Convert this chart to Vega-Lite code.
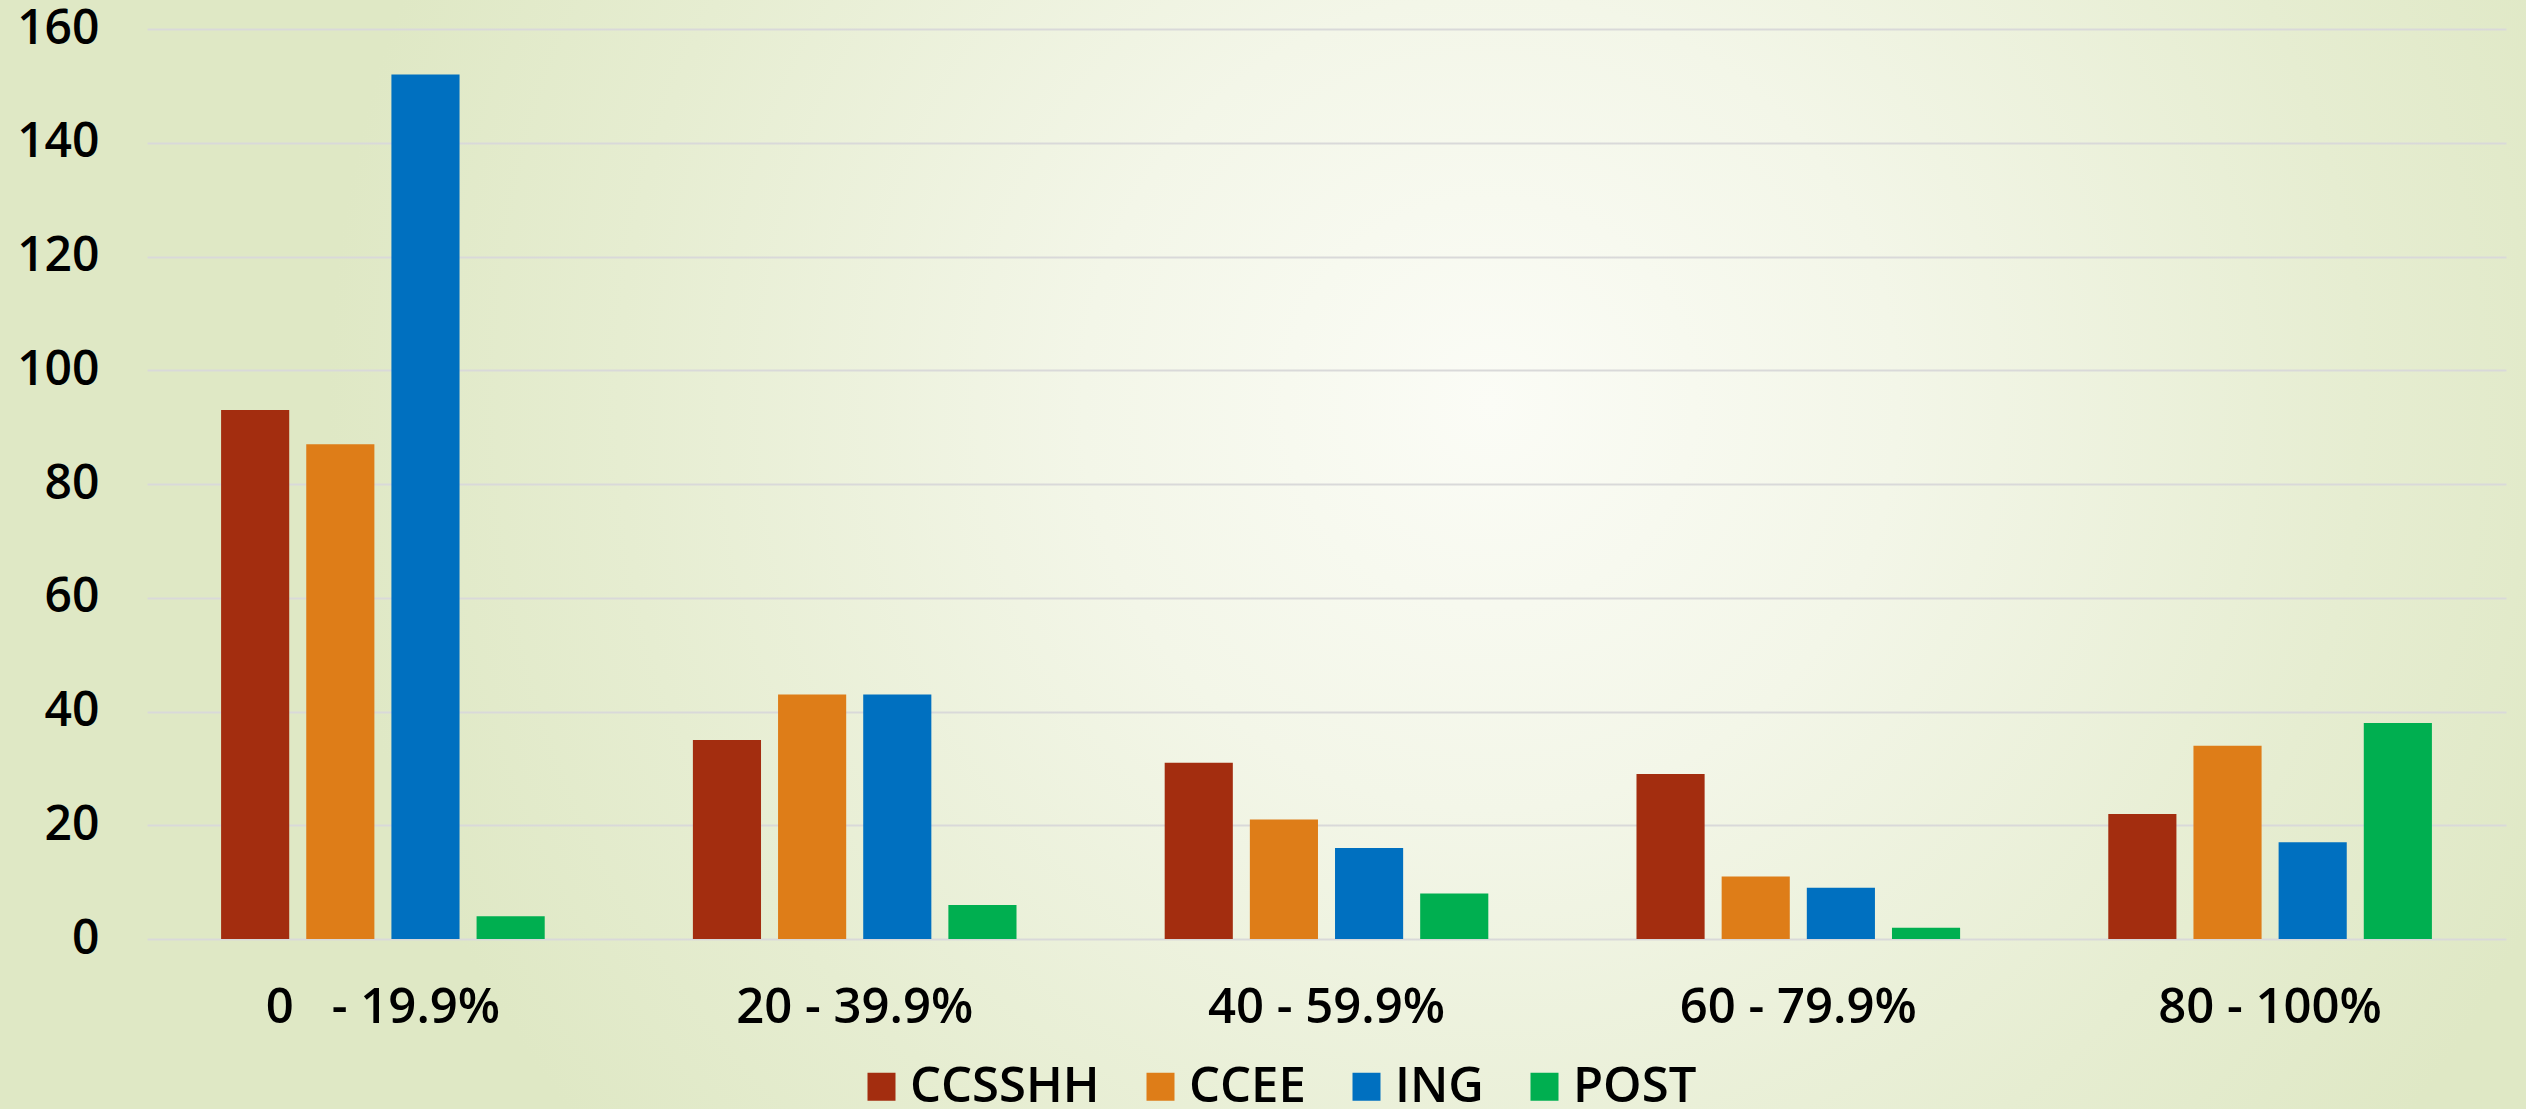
{
  "$schema": "https://vega.github.io/schema/vega-lite/v6.json",
  "width": 2526,
  "height": 1109,
  "autosize": {"type": "none"},
  "padding": 0,
  "background": "#e1e9c8",
  "view": {
    "stroke": null,
    "fill": {
      "gradient": "radial",
      "x1": 0.59, "y1": 0.44, "r1": 0,
      "x2": 0.59, "y2": 0.44, "r2": 0.46,
      "stops": [
        {"offset": 0, "color": "#fbfcf6"},
        {"offset": 0.35, "color": "#f3f6e8"},
        {"offset": 0.75, "color": "#e6edd1"},
        {"offset": 1, "color": "#dfe8c5"}
      ]
    }
  },
  "data": {
    "values": [
      {"range": "0\u00a0\u00a0\u00a0- 19.9%", "group": "CCSSHH", "count": 93},
      {"range": "0\u00a0\u00a0\u00a0- 19.9%", "group": "CCEE", "count": 87},
      {"range": "0\u00a0\u00a0\u00a0- 19.9%", "group": "ING", "count": 152},
      {"range": "0\u00a0\u00a0\u00a0- 19.9%", "group": "POST", "count": 4},
      {"range": "20 - 39.9%", "group": "CCSSHH", "count": 35},
      {"range": "20 - 39.9%", "group": "CCEE", "count": 43},
      {"range": "20 - 39.9%", "group": "ING", "count": 43},
      {"range": "20 - 39.9%", "group": "POST", "count": 6},
      {"range": "40 - 59.9%", "group": "CCSSHH", "count": 31},
      {"range": "40 - 59.9%", "group": "CCEE", "count": 21},
      {"range": "40 - 59.9%", "group": "ING", "count": 16},
      {"range": "40 - 59.9%", "group": "POST", "count": 8},
      {"range": "60 - 79.9%", "group": "CCSSHH", "count": 29},
      {"range": "60 - 79.9%", "group": "CCEE", "count": 11},
      {"range": "60 - 79.9%", "group": "ING", "count": 9},
      {"range": "60 - 79.9%", "group": "POST", "count": 2},
      {"range": "80 - 100%", "group": "CCSSHH", "count": 22},
      {"range": "80 - 100%", "group": "CCEE", "count": 34},
      {"range": "80 - 100%", "group": "ING", "count": 17},
      {"range": "80 - 100%", "group": "POST", "count": 38}
    ]
  },
  "mark": {"type": "bar"},
  "encoding": {
    "x": {
      "field": "range",
      "type": "nominal",
      "sort": null,
      "scale": {"range": [147, 2506], "paddingInner": 0, "paddingOuter": 0},
      "axis": {
        "title": null,
        "offset": -170,
        "domain": false,
        "ticks": false,
        "labelAngle": 0,
        "labelPadding": 44,
        "labelFontSize": 49,
        "labelFont": "Open Sans",
        "labelFontWeight": 600,
        "labelColor": "#000000",
        "labelLimit": 800
      }
    },
    "xOffset": {
      "field": "group",
      "type": "nominal",
      "sort": ["CCSSHH", "CCEE", "ING", "POST"],
      "scale": {"paddingInner": 0.2, "paddingOuter": 0.87}
    },
    "y": {
      "field": "count",
      "type": "quantitative",
      "scale": {"domain": [0, 160], "range": [939, 29], "nice": false},
      "axis": {
        "title": null,
        "offset": -147,
        "values": [0, 20, 40, 60, 80, 100, 120, 140, 160],
        "domain": false,
        "ticks": false,
        "tickSize": 0,
        "labelPadding": 48,
        "labelFontSize": 48,
        "labelFont": "Open Sans",
        "labelFontWeight": 600,
        "labelColor": "#000000",
        "grid": true,
        "gridColor": "#d9d9d9",
        "gridWidth": 2
      }
    },
    "color": {
      "field": "group",
      "type": "nominal",
      "sort": ["CCSSHH", "CCEE", "ING", "POST"],
      "scale": {
        "domain": ["CCSSHH", "CCEE", "ING", "POST"],
        "range": ["#a32d0f", "#de7d18", "#0070c0", "#00af50"]
      },
      "legend": {
        "orient": "none",
        "legendX": 857,
        "legendY": 1062,
        "direction": "horizontal",
        "title": null,
        "padding": 0,
        "symbolType": "square",
        "symbolSize": 784,
        "symbolStrokeWidth": 0,
        "symbolOpacity": 1,
        "labelFontSize": 49,
        "labelFont": "Open Sans",
        "labelFontWeight": 600,
        "labelColor": "#000000",
        "labelOffset": 4,
        "columnPadding": 36,
        "labelLimit": 400
      }
    }
  }
}
